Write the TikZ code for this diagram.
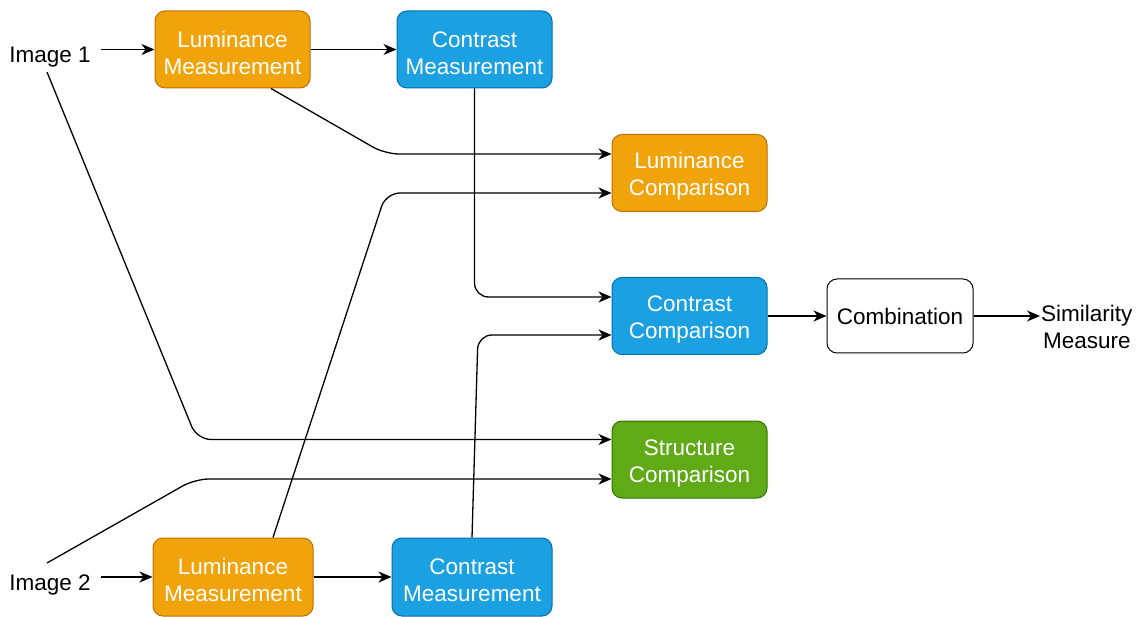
\documentclass[tikz,border=0pt]{standalone}
\usepackage{fontspec}
\setmainfont{Liberation Sans}
\usetikzlibrary{arrows.meta}
\definecolor{orfill}{HTML}{F0A30A}
\definecolor{ordraw}{HTML}{BD7000}
\definecolor{blfill}{HTML}{1BA1E2}
\definecolor{bldraw}{HTML}{006EAF}
\definecolor{grfill}{HTML}{60A917}
\definecolor{grdraw}{HTML}{2D7600}
\newcommand\twolines[2]{\rule{0pt}{23pt}#1\\#2}
\begin{document}
\begin{tikzpicture}[x=1pt,y=-1pt,
  txt/.style={font=\fontsize{22.5}{27}\selectfont, align=center, inner sep=2pt},
  box/.style={txt, draw, rounded corners=10pt, line width=1pt, minimum width=155pt, minimum height=77pt, inner sep=0pt, text=white},
  orbox/.style={box, fill=orfill, draw=ordraw},
  blbox/.style={box, fill=blfill, draw=bldraw},
  grbox/.style={box, fill=grfill, draw=grdraw},
  whbox/.style={box, fill=white, draw=black, text=black, minimum width=146pt, minimum height=74pt},
  arr/.style={-{Stealth[length=13pt,width=11pt,inset=4pt]}, line width=1.3pt, rounded corners=14pt},
]
\useasboundingbox (0,0) rectangle (1143,617);

\node[txt, inner xsep=10pt] (img1) at (50,57) {Image 1};
\node[txt, inner xsep=10pt] (img2) at (50,585) {Image 2};
\coordinate (i1b) at (47,72);
\coordinate (i2t) at (47,563);

\node[orbox] (lm1) at (232.5,49.5) {\twolines{Luminance}{Measurement}};
\node[blbox] (cm1) at (474.5,49.5) {\twolines{Contrast}{Measurement}};
\node[orbox] (lc) at (689.5,173) {\twolines{Luminance}{Comparison}};
\node[blbox] (cc) at (689.5,316) {\twolines{Contrast}{Comparison}};
\node[grbox] (sc) at (689.5,459.5) {\twolines{Structure}{Comparison}};
\node[whbox] (comb) at (900,316) {Combination};
\node[orbox, minimum width=160pt, minimum height=78pt] (lm2) at (233,577) {\twolines{Luminance}{Measurement}};
\node[blbox, minimum width=160pt, minimum height=78pt] (cm2) at (472,577) {\twolines{Contrast}{Measurement}};
\node[txt, anchor=west, inner xsep=1pt] (sim) at (1040,327) {Similarity\\Measure};

\draw[arr] (img1.east |- lm1.west) -- (lm1.west);
\draw[arr] (lm1.east) -- (cm1.west);
\draw[arr] ([xshift=38.5pt]lm1.south) -- (385,154) -- ([yshift=19pt]lc.west);
\draw[arr] (cm1.south) -- (cm1.south |- 0,297) -- ([yshift=19pt]cc.west);
\draw[arr] (i1b) -- (197,439.5) -- ([yshift=20pt]sc.west);
\draw[arr] ([xshift=40pt]lm2.north) -- (386,193) -- ([yshift=-20pt]lc.west);
\draw[arr] (cm2.north) -- (478,335) -- ([yshift=-19pt]cc.west);
\draw[arr] (i2t) -- (195,479) -- ([yshift=-19.5pt]sc.west);
\draw[arr] (img2.east |- lm2.west) -- (lm2.west);
\draw[arr] (lm2.east) -- (cm2.west);
\draw[arr] (cc.east) -- (comb.west);
\draw[arr] (comb.east) -- (comb.east -| sim.west);
\end{tikzpicture}
\end{document}
